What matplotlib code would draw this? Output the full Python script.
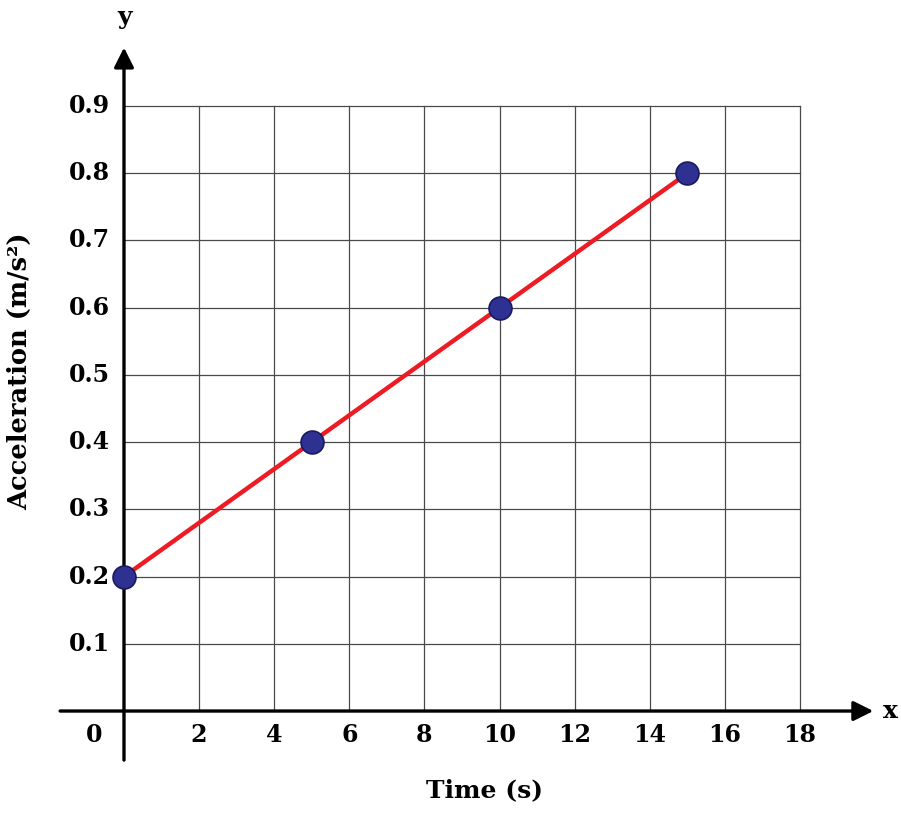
"""
Acceleration vs time graph
"""

import matplotlib.pyplot as plt

time_s = [0, 5, 10, 15]
accel = [0.2, 0.4, 0.6, 0.8]
x_ticks = [2, 4, 6, 8, 10, 12, 14, 16, 18]
y_ticks = [0.1, 0.2, 0.3, 0.4, 0.5, 0.6, 0.7, 0.8, 0.9]

plt.rcParams['font.family'] = ['DejaVu Serif']
plt.rcParams['font.weight'] = 'bold'

fig = plt.figure(figsize=(9.01, 8.13), dpi=100)
ax = fig.add_axes([0, 0, 1, 1])
ax.set_xlim(-3.301, 20.687)
ax.set_ylim(-0.1517, 1.0577)
ax.axis('off')

# grid
for xv in x_ticks:
    ax.plot([xv, xv], [0, 0.9], color='#4a4a4a', lw=0.9, zorder=1)
for yv in y_ticks:
    ax.plot([0, 18], [yv, yv], color='#4a4a4a', lw=0.9, zorder=1)

# axes with arrows
ax.annotate('', xy=(19.95, 0), xytext=(-1.7, 0),
            arrowprops=dict(arrowstyle='-|>', lw=2.4, color='black',
                            mutation_scale=30, shrinkA=0, shrinkB=0), zorder=2)
ax.annotate('', xy=(0, 0.987), xytext=(0, -0.073),
            arrowprops=dict(arrowstyle='-|>', lw=2.4, color='black',
                            mutation_scale=30, shrinkA=0, shrinkB=0), zorder=2)

# tick labels
for xv in x_ticks:
    ax.text(xv, -0.035, str(xv), ha='center', va='center', fontsize=17)
ax.text(-0.8, -0.035, '0', ha='center', va='center', fontsize=17)
for yv in y_ticks:
    ax.text(-0.38, yv, f'{yv:.1f}', ha='right', va='center', fontsize=17)

ax.text(20.4, 0, 'x', ha='center', va='center', fontsize=18)
ax.text(0.02, 1.033, 'y', ha='center', va='center', fontsize=18)

ax.text(9.6, -0.118, 'Time (s)', ha='center', va='center', fontsize=18)
ax.text(-2.77, 0.505, 'Acceleration (m/s²)', ha='center', va='center',
        rotation=90, fontsize=18.5)

# data
ax.plot(time_s, accel, color='#ed1c24', lw=3.2, zorder=3)
ax.plot(time_s, accel, 'o', color='#2e3192', markersize=16.5,
        markeredgecolor='#1a1a5e', markeredgewidth=1.2, zorder=4)

fig.savefig('out.png', dpi=100)
